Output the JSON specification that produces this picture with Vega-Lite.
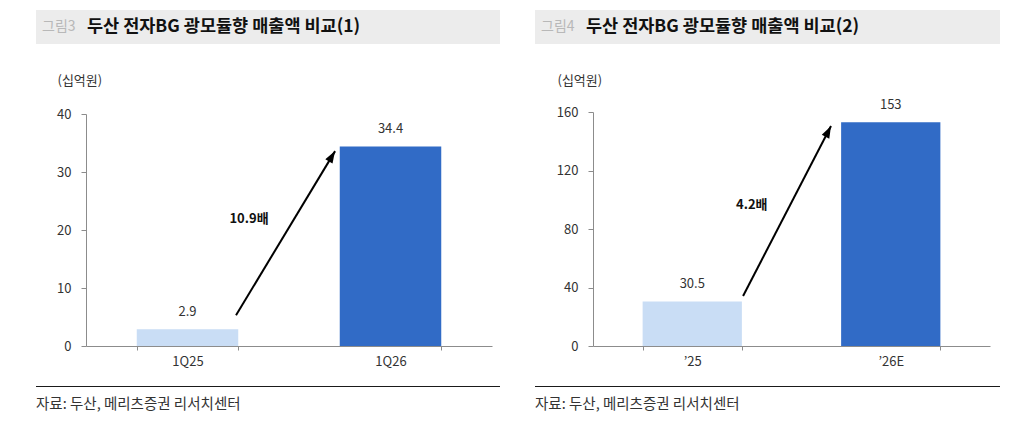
{
  "$schema": "https://vega.github.io/schema/vega-lite/v6.json",
  "padding": {"left": 36, "top": 10, "right": 0, "bottom": 0},
  "background": "white",
  "config": {
    "font": "Noto Sans CJK KR",
    "view": {"stroke": null},
    "axis": {
      "labelFont": "Noto Sans CJK KR",
      "labelFontSize": 13,
      "labelColor": "#333333",
      "titleFont": "Noto Sans CJK KR",
      "grid": false,
      "domainColor": "#8c8c8c",
      "tickColor": "#8c8c8c"
    },
    "axisY": {"minExtent": 0},
    "text": {"font": "Noto Sans CJK KR"}
  },
  "spacing": 35,
  "hconcat": [
    {
      "spacing": 30,
      "vconcat": [
        {
          "width": 464,
          "height": 34,
          "view": {"fill": "#ececec", "stroke": null},
          "data": {"values": [{"fig": "그림3", "title": "두산 전자BG 광모듈향 매출액 비교(1)"}]},
          "layer": [
            {"mark": {"type": "text", "x": 6, "y": 17, "align": "left", "baseline": "middle", "fontSize": 14, "color": "#b8b8b8"}, "encoding": {"text": {"field": "fig"}}},
            {"mark": {"type": "text", "x": 51, "y": 17, "align": "left", "baseline": "middle", "fontSize": 17.5, "fontWeight": "bold", "color": "#111111"}, "encoding": {"text": {"field": "title"}}}
          ]
        },
        {
          "spacing": 18,
          "vconcat": [
            {
              "width": 456,
              "height": 232,
              "resolve": {"scale": {"x": "independent"}},
              "layer": [
                {
                  "data": {"values": [
                    {"period": "1Q25", "value": 2.9, "kind": "prev"},
                    {"period": "1Q26", "value": 34.4, "kind": "curr"}
                  ]},
                  "encoding": {
                    "x": {"field": "period", "type": "nominal", "sort": null,
                      "scale": {"paddingInner": 0.5, "paddingOuter": 0.25, "range": [50, 456]},
                      "axis": {"title": null, "labelAngle": 0, "tickBand": "extent", "tickSize": 4, "labelPadding": 5}},
                    "y": {"field": "value", "type": "quantitative",
                      "scale": {"domain": [0, 40], "nice": false},
                      "axis": {"values": [0, 10, 20, 30, 40], "tickSize": 5, "labelPadding": 10,
                        "offset": -50,
                        "title": "(십억원)", "titleAngle": 0, "titleX": -29, "titleY": -34,
                        "titleAlign": "left", "titleBaseline": "middle", "titleFontWeight": "normal",
                        "titleFontSize": 13, "titleColor": "#333333"}}
                  },
                  "layer": [
                    {"mark": {"type": "bar"},
                     "encoding": {"color": {"field": "kind", "type": "nominal",
                       "scale": {"domain": ["prev", "curr"], "range": ["#c9ddf5", "#316bc6"]}, "legend": null}}},
                    {"mark": {"type": "text", "baseline": "alphabetic", "dy": -13, "fontSize": 13, "color": "#333333"},
                     "encoding": {"text": {"field": "value", "type": "quantitative", "format": ".1f"}}}
                  ]
                },
                {
                  "data": {"values": [
                    {"x0": 0.739, "y0": 5.3, "x1": 1.227, "y1": 33.6, "lx": 0.803, "ly": 21.9, "label": "10.9배"}
                  ]},
                  "layer": [
                    {"mark": {"type": "rule", "color": "#000000", "strokeWidth": 2},
                     "encoding": {
                       "x": {"field": "x0", "type": "quantitative", "scale": {"domain": [0, 2], "range": [50, 456], "nice": false, "zero": false}, "axis": null},
                       "x2": {"field": "x1"},
                       "y": {"field": "y0", "type": "quantitative"},
                       "y2": {"field": "y1"}
                     }},
                    {"mark": {"type": "point", "shape": "M0,0L-0.7,2L0.7,2Z", "size": 144, "angle": 31, "filled": true, "color": "#000000", "opacity": 1},
                     "encoding": {
                       "x": {"field": "x1", "type": "quantitative", "scale": {"domain": [0, 2], "range": [50, 456], "nice": false, "zero": false}, "axis": null},
                       "y": {"field": "y1", "type": "quantitative"}
                     }},
                    {"mark": {"type": "text", "fontSize": 13, "fontWeight": "bold", "color": "#111111", "baseline": "middle"},
                     "encoding": {
                       "x": {"field": "lx", "type": "quantitative", "scale": {"domain": [0, 2], "range": [50, 456], "nice": false, "zero": false}, "axis": null},
                       "y": {"field": "ly", "type": "quantitative"},
                       "text": {"field": "label"}
                     }}
                  ]
                }
              ]
            },
            {
              "width": 464,
              "height": 1,
              "view": {"fill": "#1a1a1a", "stroke": null},
              "data": {"values": []},
              "mark": "text",
              "title": {"text": "자료: 두산, 메리츠증권 리서치센터", "orient": "bottom", "anchor": "start", "frame": "group",
                "offset": 11, "fontSize": 14.5, "fontWeight": "normal", "color": "#333333", "font": "Noto Sans CJK KR"}
            }
          ]
        }
      ]
    },
    {
      "spacing": 30,
      "vconcat": [
        {
          "width": 465,
          "height": 34,
          "view": {"fill": "#ececec", "stroke": null},
          "data": {"values": [{"fig": "그림4", "title": "두산 전자BG 광모듈향 매출액 비교(2)"}]},
          "layer": [
            {"mark": {"type": "text", "x": 6, "y": 17, "align": "left", "baseline": "middle", "fontSize": 14, "color": "#b8b8b8"}, "encoding": {"text": {"field": "fig"}}},
            {"mark": {"type": "text", "x": 51, "y": 17, "align": "left", "baseline": "middle", "fontSize": 17.5, "fontWeight": "bold", "color": "#111111"}, "encoding": {"text": {"field": "title"}}}
          ]
        },
        {
          "spacing": 18,
          "vconcat": [
            {
              "width": 455,
              "height": 234,
              "resolve": {"scale": {"x": "independent"}},
              "layer": [
                {
                  "data": {"values": [
                    {"period": "’25", "value": 30.5, "kind": "prev"},
                    {"period": "’26E", "value": 153, "kind": "curr"}
                  ]},
                  "encoding": {
                    "x": {"field": "period", "type": "nominal", "sort": null,
                      "scale": {"paddingInner": 0.5, "paddingOuter": 0.25, "range": [58, 455]},
                      "axis": {"title": null, "labelAngle": 0, "tickBand": "extent", "tickSize": 4, "labelPadding": 5}},
                    "y": {"field": "value", "type": "quantitative",
                      "scale": {"domain": [0, 160], "nice": false},
                      "axis": {"values": [0, 40, 80, 120, 160], "tickSize": 5, "labelPadding": 10,
                        "offset": -58,
                        "title": "(십억원)", "titleAngle": 0, "titleX": -36, "titleY": -32,
                        "titleAlign": "left", "titleBaseline": "middle", "titleFontWeight": "normal",
                        "titleFontSize": 13, "titleColor": "#333333"}}
                  },
                  "layer": [
                    {"mark": {"type": "bar"},
                     "encoding": {"color": {"field": "kind", "type": "nominal",
                       "scale": {"domain": ["prev", "curr"], "range": ["#c9ddf5", "#316bc6"]}, "legend": null}}},
                    {"mark": {"type": "text", "baseline": "alphabetic", "dy": -13, "fontSize": 13, "color": "#333333"},
                     "encoding": {"text": {"field": "value", "type": "quantitative", "format": ".4~f"}}}
                  ]
                },
                {
                  "data": {"values": [
                    {"x0": 0.756, "y0": 34.2, "x1": 1.199, "y1": 150.4, "lx": 0.80, "ly": 96.4, "label": "4.2배"}
                  ]},
                  "layer": [
                    {"mark": {"type": "rule", "color": "#000000", "strokeWidth": 2},
                     "encoding": {
                       "x": {"field": "x0", "type": "quantitative", "scale": {"domain": [0, 2], "range": [58, 455], "nice": false, "zero": false}, "axis": null},
                       "x2": {"field": "x1"},
                       "y": {"field": "y0", "type": "quantitative"},
                       "y2": {"field": "y1"}
                     }},
                    {"mark": {"type": "point", "shape": "M0,0L-0.7,2L0.7,2Z", "size": 144, "angle": 27, "filled": true, "color": "#000000", "opacity": 1},
                     "encoding": {
                       "x": {"field": "x1", "type": "quantitative", "scale": {"domain": [0, 2], "range": [58, 455], "nice": false, "zero": false}, "axis": null},
                       "y": {"field": "y1", "type": "quantitative"}
                     }},
                    {"mark": {"type": "text", "fontSize": 13, "fontWeight": "bold", "color": "#111111", "baseline": "middle"},
                     "encoding": {
                       "x": {"field": "lx", "type": "quantitative", "scale": {"domain": [0, 2], "range": [58, 455], "nice": false, "zero": false}, "axis": null},
                       "y": {"field": "ly", "type": "quantitative"},
                       "text": {"field": "label"}
                     }}
                  ]
                }
              ]
            },
            {
              "width": 465,
              "height": 1,
              "view": {"fill": "#1a1a1a", "stroke": null},
              "data": {"values": []},
              "mark": "text",
              "title": {"text": "자료: 두산, 메리츠증권 리서치센터", "orient": "bottom", "anchor": "start", "frame": "group",
                "offset": 11, "fontSize": 14.5, "fontWeight": "normal", "color": "#333333", "font": "Noto Sans CJK KR"}
            }
          ]
        }
      ]
    }
  ]
}
